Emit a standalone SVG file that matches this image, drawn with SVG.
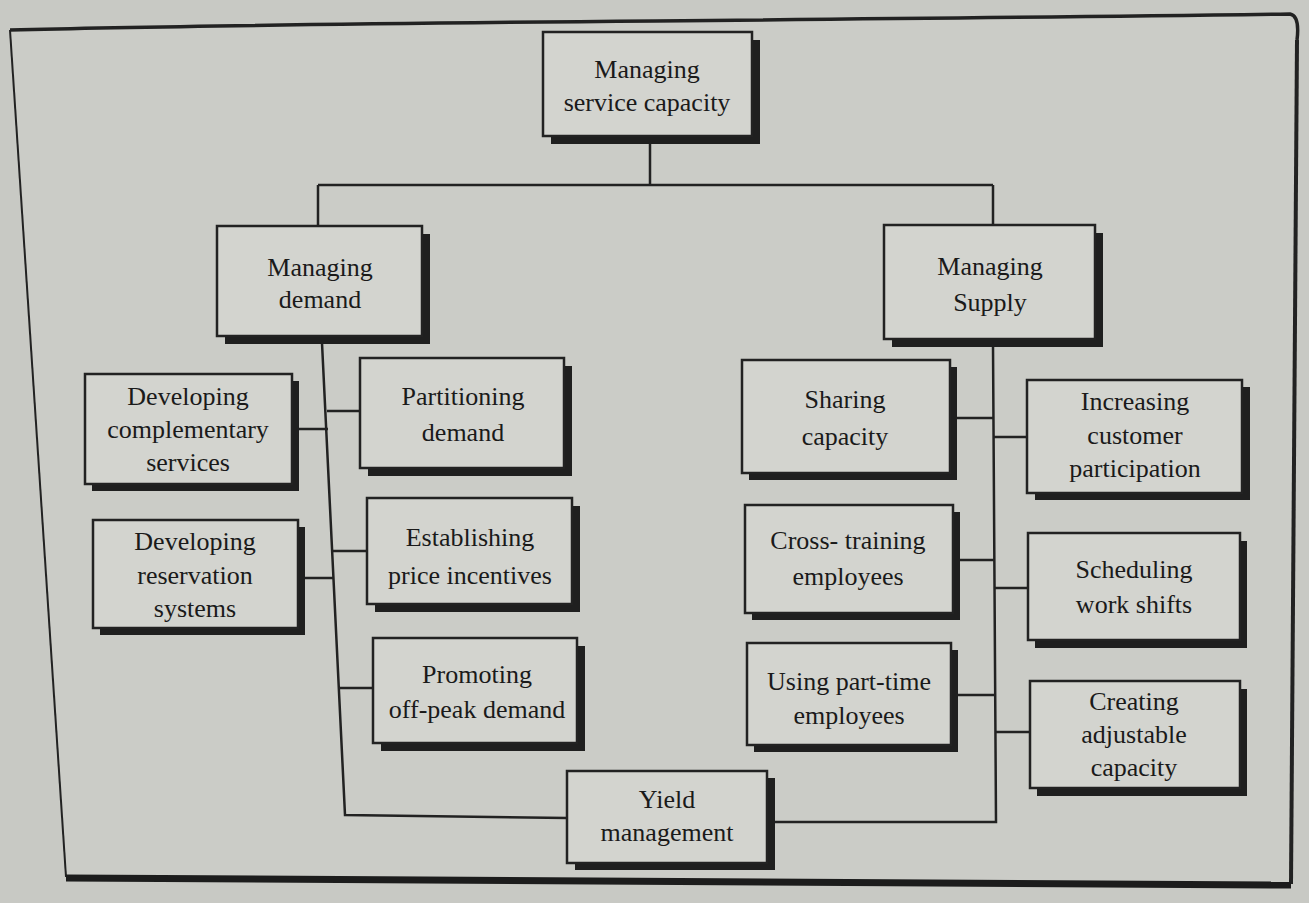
<svg xmlns="http://www.w3.org/2000/svg" width="1309" height="903" viewBox="0 0 1309 903">
<style>
.bg{fill:#c8c9c4}
.shadow{fill:#1f1f1f}
.box{fill:#d3d4cf;stroke:#222;stroke-width:2.5}
.t{font-family:"Liberation Serif","Times New Roman",serif;font-size:26px;fill:#1a1a1a;text-anchor:middle}
.c{fill:none;stroke:#222;stroke-width:2.5}
</style>
<rect class="bg" x="0" y="0" width="1309" height="903"/>
<g id="frame">
<polygon points="10,30 1296,14 1291,884 66,877" fill="#cbccc7"/>
<path d="M10,30 C300,22 700,22 1290,14 Q1300,16 1297,40" fill="none" stroke="#222" stroke-width="3.5"/>
<path d="M10,30 L66,877" fill="none" stroke="#222" stroke-width="2"/>
<path d="M1297,40 L1291,884" fill="none" stroke="#222" stroke-width="4"/>
<path d="M66,878 L1291,885" fill="none" stroke="#1c1c1c" stroke-width="7"/>
</g>
<g id="connectors">
<path class="c" d="M650,142 V185 M318,185 H993 M318,185 V226 M993,185 V225"/>
<path class="c" d="M322,343 L345,815 L567,818"/>
<path class="c" d="M327,411 H360 M299,429 H328 M333,551 H367 M305,578 H334 M339,688 H373"/>
<path class="c" d="M993,346 L996,822 L775,822"/>
<path class="c" d="M957,418 H993 M993,437 H1027 M960,560 H994 M994,588 H1028 M958,695 H995 M995,732 H1030"/>
</g>
<g id="n-root">
<rect class="shadow" x="551" y="40" width="209" height="104"/>
<rect class="box" x="543" y="32" width="209" height="104"/>
<text class="t" x="647" y="78">Managing</text>
<text class="t" x="647" y="111">service capacity</text>
</g>
<g id="n-demand">
<rect class="shadow" x="225" y="234" width="205" height="110"/>
<rect class="box" x="217" y="226" width="205" height="110"/>
<text class="t" x="320" y="276">Managing</text>
<text class="t" x="320" y="308">demand</text>
</g>
<g id="n-supply">
<rect class="shadow" x="892" y="233" width="211" height="114"/>
<rect class="box" x="884" y="225" width="211" height="114"/>
<text class="t" x="990" y="275">Managing</text>
<text class="t" x="990" y="311">Supply</text>
</g>
<g id="n-complementary">
<rect class="shadow" x="92" y="381" width="207" height="110"/>
<rect class="box" x="85" y="374" width="207" height="110"/>
<text class="t" x="188" y="405">Developing</text>
<text class="t" x="188" y="438">complementary</text>
<text class="t" x="188" y="471">services</text>
</g>
<g id="n-partitioning">
<rect class="shadow" x="368" y="366" width="204" height="110"/>
<rect class="box" x="360" y="358" width="204" height="110"/>
<text class="t" x="463" y="405">Partitioning</text>
<text class="t" x="463" y="441">demand</text>
</g>
<g id="n-reservation">
<rect class="shadow" x="100" y="527" width="205" height="108"/>
<rect class="box" x="93" y="520" width="205" height="108"/>
<text class="t" x="195" y="550">Developing</text>
<text class="t" x="195" y="584">reservation</text>
<text class="t" x="195" y="617">systems</text>
</g>
<g id="n-price">
<rect class="shadow" x="375" y="506" width="205" height="106"/>
<rect class="box" x="367" y="498" width="205" height="106"/>
<text class="t" x="470" y="546">Establishing</text>
<text class="t" x="470" y="584">price incentives</text>
</g>
<g id="n-offpeak">
<rect class="shadow" x="381" y="646" width="204" height="105"/>
<rect class="box" x="373" y="638" width="204" height="105"/>
<text class="t" x="477" y="683">Promoting</text>
<text class="t" x="477" y="718">off-peak demand</text>
</g>
<g id="n-yield">
<rect class="shadow" x="575" y="778" width="200" height="92"/>
<rect class="box" x="567" y="771" width="200" height="92"/>
<text class="t" x="667" y="808">Yield</text>
<text class="t" x="667" y="841">management</text>
</g>
<g id="n-sharing">
<rect class="shadow" x="749" y="367" width="208" height="113"/>
<rect class="box" x="742" y="360" width="208" height="113"/>
<text class="t" x="845" y="408">Sharing</text>
<text class="t" x="845" y="445">capacity</text>
</g>
<g id="n-participation">
<rect class="shadow" x="1035" y="387" width="215" height="113"/>
<rect class="box" x="1027" y="380" width="215" height="113"/>
<text class="t" x="1135" y="410">Increasing</text>
<text class="t" x="1135" y="444">customer</text>
<text class="t" x="1135" y="477">participation</text>
</g>
<g id="n-crosstraining">
<rect class="shadow" x="752" y="512" width="208" height="108"/>
<rect class="box" x="745" y="505" width="208" height="108"/>
<text class="t" x="848" y="549">Cross- training</text>
<text class="t" x="848" y="585">employees</text>
</g>
<g id="n-scheduling">
<rect class="shadow" x="1035" y="541" width="212" height="107"/>
<rect class="box" x="1028" y="533" width="212" height="107"/>
<text class="t" x="1134" y="578">Scheduling</text>
<text class="t" x="1134" y="613">work shifts</text>
</g>
<g id="n-parttime">
<rect class="shadow" x="754" y="650" width="204" height="102"/>
<rect class="box" x="747" y="643" width="204" height="102"/>
<text class="t" x="849" y="690">Using part-time</text>
<text class="t" x="849" y="724">employees</text>
</g>
<g id="n-adjustable">
<rect class="shadow" x="1037" y="689" width="210" height="107"/>
<rect class="box" x="1030" y="681" width="210" height="107"/>
<text class="t" x="1134" y="710">Creating</text>
<text class="t" x="1134" y="743">adjustable</text>
<text class="t" x="1134" y="776">capacity</text>
</g>
</svg>
